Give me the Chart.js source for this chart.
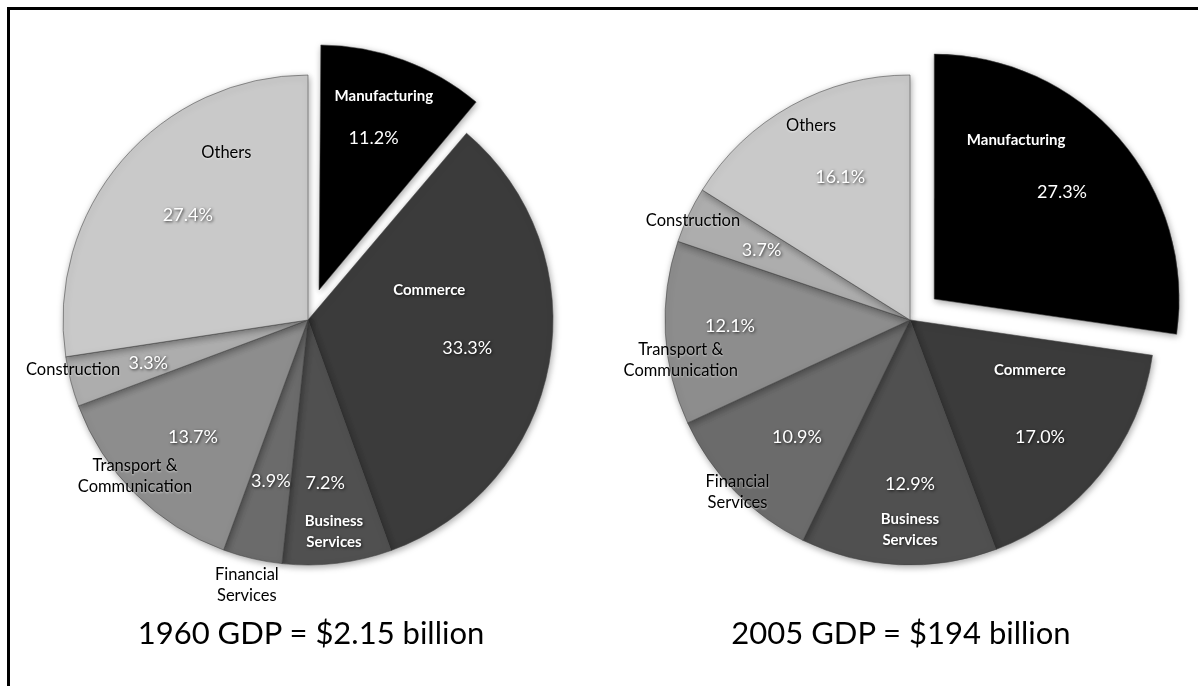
<!DOCTYPE html>
<html lang="en">
<head>
  <meta charset="UTF-8">
  <title>GDP by Sector - 1960 vs 2005</title>
  <script src="https://cdn.jsdelivr.net/npm/chart.js@4.4.1/dist/chart.umd.min.js"></script>
  <style>
    body {
      margin: 0;
      width: 1198px;
      height: 686px;
      overflow: hidden;
      background: #fff;
      position: relative;
      font-family: Lato, 'Open Sans', sans-serif;
    }
    .frame {
      position: absolute;
      left: 7px;
      top: 7px;
      width: 1200px;
      height: 700px;
      border-top: 3px solid #000;
      border-left: 3px solid #000;
    }
    canvas {
      position: absolute;
      left: 0;
      top: 0;
    }
    .caption {
      position: absolute;
      top: 613px;
      width: 500px;
      text-align: center;
      font-size: 31px;
      color: #000;
    }
  </style>
</head>
<body>
  <div class="frame"></div>
  <canvas id="pie1960" width="1198" height="686"></canvas>
  <canvas id="pie2005" width="1198" height="686"></canvas>
  <div class="caption" style="left: 61px;">1960 GDP = $2.15 billion</div>
  <div class="caption" style="left: 651px;">2005 GDP = $194 billion</div>

  <script>
    // sectors, clockwise from 12 o'clock
    const sectors = ['Manufacturing', 'Commerce', 'Business Services', 'Financial Services',
      'Transport & Communication', 'Construction', 'Others'];
    const share1960 = [11.2, 33.3, 7.2, 3.9, 13.7, 3.3, 27.4];
    const share2005 = [27.3, 17.0, 12.9, 10.9, 12.1, 3.7, 16.1];
    const valueText1960 = ['11.2%', '33.3%', '7.2%', '3.9%', '13.7%', '3.3%', '27.4%'];
    const valueText2005 = ['27.3%', '17.0%', '12.9%', '10.9%', '12.1%', '3.7%', '16.1%'];

    const nameLines = [['Manufacturing'], ['Commerce'], ['Business', 'Services'], ['Financial', 'Services'],
      ['Transport &', 'Communication'], ['Construction'], ['Others']];
    const sliceColors = ['#000000', '#3b3b3b', '#505050', '#6b6b6b', '#8d8d8d', '#adadad', '#c9c9c9'];
    const whiteName = [true, true, true, false, false, false, false];
    const explode = [128, 0, 0, 0, 0, 0, 0];

    // label spots: [angle deg clockwise from top, fraction of radius]
    const namePos1960 = [[18.7, 0.965], [76, 0.51], [173, 0.87], [193, 1.11], [228, 0.95], [258, 0.98], [334, 0.76]];
    const valuePos1960 = [[19.8, 0.79], [100, 0.66], [174, 0.67], [193, 0.675], [224.5, 0.67], [255, 0.675], [311, 0.65]];
    const namePos2005 = [[30.5, 0.853], [112.6, 0.53], [180, 0.857], [225, 0.996], [260, 0.95], [294.7, 0.975], [333, 0.89]];
    const valuePos2005 = [[50, 0.81], [132, 0.714], [180, 0.67], [224, 0.664], [268, 0.735], [295.3, 0.67], [334, 0.65]];

    const FONT = "Lato, 'Open Sans', sans-serif";

    const pieDecor = {
      id: 'pieDecor',
      afterDatasetUpdate(chart) {
        // keep exploded slice the same radius as the rest
        const meta = chart.getDatasetMeta(0);
        meta.data.forEach((arc, i) => {
          const off = (explode[i] || 0) / 4;
          if (!off) return;
          const circ = arc.endAngle - arc.startAngle;
          const fix = 1 - Math.sin(Math.min(Math.PI, circ));
          arc.outerRadius = meta.controller.outerRadius - off * fix;
        });
      },
      beforeDatasetsDraw(chart) {
        const ctx = chart.ctx;
        ctx.save();
        ctx.shadowColor = 'rgba(0,0,0,0.35)';
        ctx.shadowBlur = 7;
        ctx.shadowOffsetX = 1;
        ctx.shadowOffsetY = 2;
      },
      afterDatasetsDraw(chart, args, opts) {
        const ctx = chart.ctx;
        ctx.restore();
        const meta = chart.getDatasetMeta(0);
        const cx = meta.data[0].x;
        const cy = meta.data[0].y;
        const R = meta.controller.outerRadius;
        const put = (pos) => {
          const a = pos[0] * Math.PI / 180;
          return [cx + Math.sin(a) * R * pos[1], cy - Math.cos(a) * R * pos[1]];
        };
        ctx.save();
        ctx.textAlign = 'center';
        ctx.textBaseline = 'middle';
        sectors.forEach((s, i) => {
          // sector name
          const [nx, ny] = put(opts.namePos[i]);
          const lines = nameLines[i];
          ctx.font = whiteName[i] ? 'bold 15px ' + FONT : '16.5px ' + FONT;
          if (whiteName[i]) {
            ctx.fillStyle = '#fff';
            ctx.shadowColor = 'rgba(0,0,0,0.7)';
            ctx.shadowBlur = 3;
            ctx.shadowOffsetX = 1;
            ctx.shadowOffsetY = 1;
          } else {
            ctx.fillStyle = '#000';
            ctx.shadowColor = 'rgba(255,255,255,0.6)';
            ctx.shadowBlur = 2;
            ctx.shadowOffsetX = 0;
            ctx.shadowOffsetY = 1;
          }
          lines.forEach((ln, k) => {
            ctx.fillText(ln, nx, ny + (k - (lines.length - 1) / 2) * 21);
          });
          // percentage
          const [vx, vy] = put(opts.valuePos[i]);
          ctx.font = '18px ' + FONT;
          ctx.fillStyle = '#fff';
          ctx.shadowColor = 'rgba(0,0,0,0.75)';
          ctx.shadowBlur = 3;
          ctx.shadowOffsetX = 1;
          ctx.shadowOffsetY = 1;
          ctx.fillText(opts.values[i], vx, vy);
        });
        ctx.restore();
      }
    };

    function makePie(id, shares, values, namePos, valuePos, padding) {
      return new Chart(document.getElementById(id), {
        type: 'pie',
        data: {
          labels: sectors,
          datasets: [{
            data: shares,
            backgroundColor: sliceColors,
            borderColor: 'rgba(70,70,70,0.55)',
            borderWidth: 1,
            offset: explode
          }]
        },
        options: {
          responsive: false,
          animation: false,
          events: [],
          radius: 245,
          layout: { padding: padding },
          plugins: {
            legend: { display: false },
            tooltip: { enabled: false },
            pieDecor: { values: values, namePos: namePos, valuePos: valuePos }
          }
        },
        plugins: [pieDecor]
      });
    }

    makePie('pie1960', share1960, valueText1960, namePos1960, valuePos1960,
      { left: 0, right: 582, top: 0, bottom: 46 });
    makePie('pie2005', share2005, valueText2005, namePos2005, valuePos2005,
      { left: 622, right: 0, top: 0, bottom: 46 });
  </script>
</body>
</html>
